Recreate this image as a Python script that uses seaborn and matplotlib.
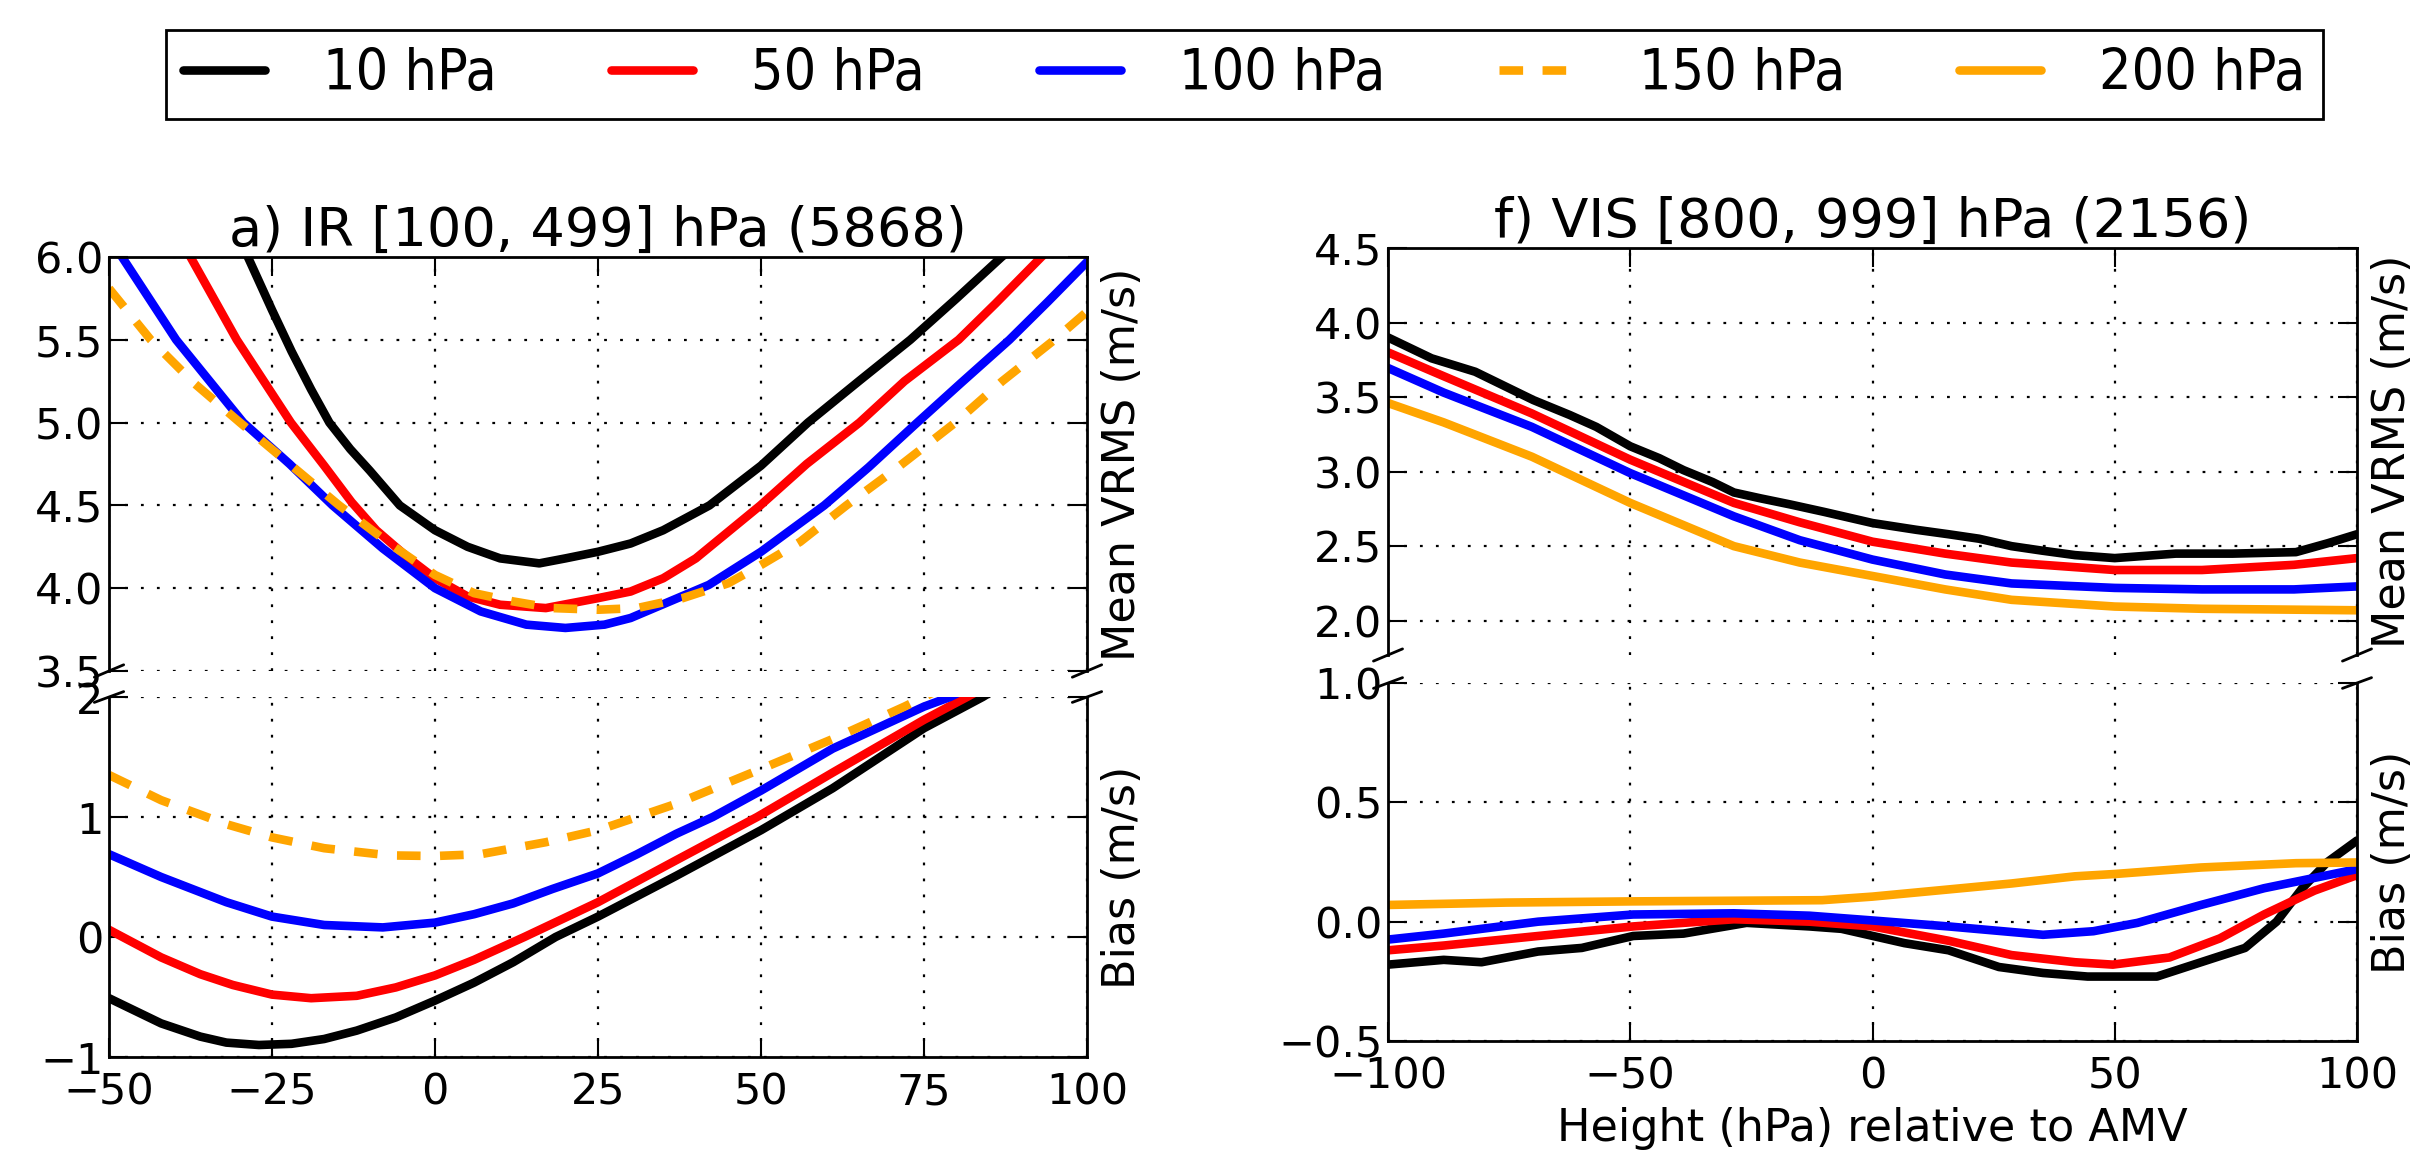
import matplotlib
matplotlib.use("Agg")
import matplotlib.pyplot as plt
from matplotlib import font_manager
import seaborn as sns

# ---------------- data ----------------
series_labels = ["10 hPa", "50 hPa", "100 hPa", "150 hPa", "200 hPa"]
series_colors = ["black", "red", "blue", "orange", "orange"]

# Panel a) IR [100, 499] hPa -- Mean VRMS
a_vrms_10_x = [-32, -28.7, -25, -22, -19, -16.2, -13, -10, -5.4, 0, 5, 10, 16, 20, 25, 30, 35, 42.1, 50, 57.2, 65, 72.9, 80, 86.9, 90]
a_vrms_10_y = [6.3, 6.0, 5.68, 5.43, 5.2, 5.0, 4.84, 4.71, 4.5, 4.35, 4.25, 4.18, 4.15, 4.18, 4.22, 4.27, 4.35, 4.5, 4.74, 5.0, 5.25, 5.5, 5.75, 6.0, 6.1]
a_vrms_50_x = [-40, -37.5, -30.4, -22.1, -17, -12.8, -9, -4, 0, 5, 10, 17, 25, 30, 35, 40, 49.9, 57, 65.1, 72, 80.3, 86, 93, 100]
a_vrms_50_y = [6.25, 6.0, 5.5, 5.0, 4.74, 4.52, 4.35, 4.18, 4.06, 3.95, 3.90, 3.88, 3.94, 3.98, 4.06, 4.18, 4.5, 4.75, 5.0, 5.25, 5.5, 5.72, 6.0, 6.25]
a_vrms_100_x = [-50, -48, -39.7, -29.4, -22.3, -15.7, -8, 0, 7, 14, 20, 26, 30, 36, 42, 50, 59.7, 66.5, 73.4, 80.7, 88.1, 94, 100]
a_vrms_100_y = [6.1, 6.0, 5.5, 5.0, 4.75, 4.5, 4.24, 4.0, 3.86, 3.78, 3.76, 3.78, 3.82, 3.92, 4.02, 4.22, 4.5, 4.73, 4.98, 5.24, 5.5, 5.73, 5.97]
a_vrms_150_x = [-50, -43.6, -37, -29.9, -22, -14.7, -7, 0, 6, 12, 18, 25, 31, 38, 45, 50, 56, 63.1, 71, 79.8, 87, 95, 100]
a_vrms_150_y = [5.81, 5.5, 5.24, 5.0, 4.74, 4.5, 4.27, 4.08, 3.97, 3.92, 3.88, 3.87, 3.88, 3.94, 4.03, 4.14, 4.28, 4.5, 4.73, 5.0, 5.25, 5.5, 5.67]

# Panel a) -- Bias
a_bias_10_x = [-50, -42, -36, -32, -27, -22, -17, -12, -6, 0, 6, 12, 18.5, 25, 37, 50, 61, 75, 84, 90]
a_bias_10_y = [-0.51, -0.72, -0.83, -0.88, -0.90, -0.89, -0.85, -0.78, -0.67, -0.53, -0.38, -0.21, 0.0, 0.17, 0.51, 0.89, 1.24, 1.74, 2.0, 2.2]
a_bias_50_x = [-50, -42, -36, -31, -25, -19, -12, -6, 0, 6, 13.7, 25, 37, 49.4, 61, 75, 81.6, 90]
a_bias_50_y = [0.06, -0.17, -0.31, -0.40, -0.48, -0.51, -0.49, -0.42, -0.32, -0.19, 0.0, 0.29, 0.64, 1.0, 1.37, 1.81, 2.0, 2.25]
a_bias_100_x = [-50, -42, -32, -25, -17, -8, 0, 6, 12, 18, 25, 31, 37, 42.6, 50, 61, 75, 79, 90]
a_bias_100_y = [0.69, 0.50, 0.29, 0.17, 0.10, 0.08, 0.12, 0.19, 0.28, 0.40, 0.53, 0.69, 0.86, 1.0, 1.22, 1.57, 1.92, 2.0, 2.3]
a_bias_150_x = [-50, -42, -32, -25, -17, -7, 0, 7, 17, 25, 31, 37, 50, 61, 72, 75, 90]
a_bias_150_y = [1.35, 1.14, 0.94, 0.83, 0.74, 0.68, 0.675, 0.69, 0.79, 0.89, 1.0, 1.11, 1.40, 1.65, 1.92, 2.0, 2.4]

# Panel f) VIS [800, 999] hPa -- Mean VRMS
f_vrms_10_x = [-100, -91, -82, -70, -62.5, -57, -50, -44, -39, -33, -28.6, -23, -17, -10, 0, 9, 15.7, 22, 28.7, 35, 41.8, 50, 62.6, 74.3, 87.4, 94, 100]
f_vrms_10_y = [3.90, 3.76, 3.67, 3.48, 3.38, 3.30, 3.17, 3.09, 3.01, 2.93, 2.86, 2.82, 2.78, 2.73, 2.655, 2.61, 2.58, 2.55, 2.50, 2.47, 2.44, 2.42, 2.45, 2.45, 2.46, 2.52, 2.58]
f_vrms_50_x = [-100, -88.5, -70.3, -50, -28.6, -15, 0, 15, 28.7, 50, 68, 87, 100]
f_vrms_50_y = [3.80, 3.64, 3.39, 3.08, 2.79, 2.66, 2.53, 2.45, 2.39, 2.34, 2.34, 2.375, 2.42]
f_vrms_100_x = [-100, -88.5, -70.3, -50, -28.6, -15, 0, 15, 28.7, 50, 68, 87, 100]
f_vrms_100_y = [3.695, 3.53, 3.30, 2.99, 2.70, 2.54, 2.41, 2.31, 2.25, 2.22, 2.21, 2.21, 2.23]
f_vrms_200_x = [-100, -88.5, -70.3, -50, -28.6, -15, 0, 15, 28.7, 50, 68, 100]
f_vrms_200_y = [3.46, 3.33, 3.10, 2.79, 2.50, 2.39, 2.30, 2.21, 2.14, 2.095, 2.08, 2.07]

# Panel f) -- Bias
f_bias_10_x = [-100, -88.5, -80.7, -69, -60, -49.4, -39, -26, -13, -6.4, 6.6, 15.7, 26.1, 35.2, 44.4, 58.7, 67.8, 76.9, 83.4, 88.7, 93.9, 100]
f_bias_10_y = [-0.18, -0.16, -0.17, -0.125, -0.11, -0.06, -0.05, -0.005, -0.02, -0.03, -0.09, -0.12, -0.19, -0.215, -0.23, -0.23, -0.17, -0.11, 0.0, 0.14, 0.25, 0.34]
f_bias_50_x = [-100, -88.5, -69, -49.4, -28.6, -13, 0, 15.7, 28.7, 41.8, 49.6, 61.3, 71.7, 80.8, 91.2, 100]
f_bias_50_y = [-0.12, -0.10, -0.06, -0.02, 0.01, 0.0, -0.02, -0.08, -0.14, -0.17, -0.18, -0.15, -0.07, 0.03, 0.13, 0.195]
f_bias_100_x = [-100, -88.5, -69, -49.4, -28.6, -13, 0, 15.7, 35.2, 45.6, 54.7, 67.8, 80.8, 100]
f_bias_100_y = [-0.075, -0.05, 0.0, 0.03, 0.035, 0.025, 0.005, -0.02, -0.055, -0.04, -0.005, 0.07, 0.14, 0.22]
f_bias_200_x = [-100, -75.5, -49.4, -10.4, 0, 15.7, 28.7, 41.8, 50.2, 67.8, 87.4, 100]
f_bias_200_y = [0.07, 0.08, 0.085, 0.09, 0.105, 0.135, 0.16, 0.19, 0.20, 0.227, 0.245, 0.248]

a_title = "a) IR [100, 499] hPa (5868)"
f_title = "f) VIS [800, 999] hPa (2156)"
a_xticks = [-50, -25, 0, 25, 50, 75, 100]
f_xticks = [-100, -50, 0, 50, 100]
a_vrms_yticks = [3.5, 4.0, 4.5, 5.0, 5.5, 6.0]
a_bias_yticks = [-1, 0, 1, 2]
f_vrms_yticks = [2.0, 2.5, 3.0, 3.5, 4.0, 4.5]
f_bias_yticks = [-0.5, 0.0, 0.5, 1.0]

# ---------------- style ----------------
sns.set_theme(style="white")
plt.rcParams.update({
    "font.family": ["DejaVu Sans"],
    "text.color": "black",
    "axes.labelcolor": "black",
    "axes.edgecolor": "black",
    "axes.linewidth": 2.0,
    "xtick.color": "black",
    "ytick.color": "black",
    "lines.scale_dashes": False,
    "axes.axisbelow": True,
})

fig = plt.figure(figsize=(24.27, 11.52), dpi=100)
W, H = 2427.0, 1152.0

def box(x0, y0, x1, y1):
    return [x0 / W, 1 - y1 / H, (x1 - x0) / W, (y1 - y0) / H]

ax_a_top = fig.add_axes(box(109, 257, 1087, 671))
ax_a_bot = fig.add_axes(box(109, 697, 1087, 1057))
ax_f_top = fig.add_axes(box(1388, 248, 2357, 655))
ax_f_bot = fig.add_axes(box(1388, 683, 2357, 1041))

LW = 6.2
DASH = (0, (17, 14))

def draw(ax, xs, ys, idx):
    ls = DASH if idx == 3 else "-"
    sns.lineplot(x=xs, y=ys, ax=ax, color=series_colors[idx], linewidth=LW,
                 linestyle=ls, label=series_labels[idx], legend=False,
                 errorbar=None, sort=True)

draw(ax_a_top, a_vrms_10_x, a_vrms_10_y, 0)
draw(ax_a_top, a_vrms_50_x, a_vrms_50_y, 1)
draw(ax_a_top, a_vrms_100_x, a_vrms_100_y, 2)
draw(ax_a_top, a_vrms_150_x, a_vrms_150_y, 3)
draw(ax_a_bot, a_bias_10_x, a_bias_10_y, 0)
draw(ax_a_bot, a_bias_50_x, a_bias_50_y, 1)
draw(ax_a_bot, a_bias_100_x, a_bias_100_y, 2)
draw(ax_a_bot, a_bias_150_x, a_bias_150_y, 3)

draw(ax_f_top, f_vrms_10_x, f_vrms_10_y, 0)
draw(ax_f_top, f_vrms_50_x, f_vrms_50_y, 1)
draw(ax_f_top, f_vrms_100_x, f_vrms_100_y, 2)
draw(ax_f_top, f_vrms_200_x, f_vrms_200_y, 4)
draw(ax_f_bot, f_bias_10_x, f_bias_10_y, 0)
draw(ax_f_bot, f_bias_50_x, f_bias_50_y, 1)
draw(ax_f_bot, f_bias_100_x, f_bias_100_y, 2)
draw(ax_f_bot, f_bias_200_x, f_bias_200_y, 4)

TICK_FS = 31
LABEL_FS = 32
GRID_LS = (0, (2, 9.5))

def setup(ax_top, ax_bot, xticks, top_lim, top_ticks, bot_lim, bot_ticks, title):
    for ax in (ax_top, ax_bot):
        ax.set_xlim(xticks[0], xticks[-1])
        ax.set_xticks(xticks)
        ax.grid(True, color="black", linestyle=GRID_LS, linewidth=1.6)
        ax.tick_params(axis="y", left=True, right=True, labelleft=True, labelright=False,
                       direction="in", length=14, width=1.5, labelsize=TICK_FS, pad=4)
        ax.yaxis.set_label_position("right")
        ax.set_xlabel("")
    ax_top.set_ylim(*top_lim)
    ax_top.set_yticks(top_ticks)
    ax_bot.set_ylim(*bot_lim)
    ax_bot.set_yticks(bot_ticks)
    ax_top.spines["bottom"].set_visible(False)
    ax_bot.spines["top"].set_visible(False)
    ax_top.tick_params(axis="x", top=True, bottom=False, labeltop=False, labelbottom=False,
                       direction="in", length=14, width=1.5)
    ax_bot.tick_params(axis="x", top=False, bottom=True, labeltop=False, labelbottom=True,
                       direction="in", length=14, width=1.5, labelsize=TICK_FS, pad=10.5)
    ax_top.set_ylabel("Mean VRMS (m/s)", fontsize=LABEL_FS, labelpad=10)
    ax_bot.set_ylabel("Bias (m/s)", fontsize=LABEL_FS, labelpad=10)
    ax_top.set_title(title, fontsize=39, pad=4)
    # broken-axis marks
    d = 0.015
    kw = dict(color="black", clip_on=False, linewidth=2.0)
    ax_top.plot((-d, d), (-d, d), transform=ax_top.transAxes, **kw)
    ax_top.plot((1 - d, 1 + d), (-d, d), transform=ax_top.transAxes, **kw)
    ax_bot.plot((-d, d), (1 - d, 1 + d), transform=ax_bot.transAxes, **kw)
    ax_bot.plot((1 - d, 1 + d), (1 - d, 1 + d), transform=ax_bot.transAxes, **kw)

setup(ax_a_top, ax_a_bot, a_xticks, (3.5, 6.0), a_vrms_yticks, (-1, 2), a_bias_yticks, a_title)
setup(ax_f_top, ax_f_bot, f_xticks, (1.77, 4.5), f_vrms_yticks, (-0.5, 1.0), f_bias_yticks, f_title)
ax_f_bot.set_xlabel("Height (hPa) relative to AMV", fontsize=LABEL_FS, labelpad=7)

# legend collected from both columns
handles = {}
for ax in (ax_a_top, ax_f_top):
    h, l = ax.get_legend_handles_labels()
    for hh, ll in zip(h, l):
        handles.setdefault(ll, hh)

has_condensed = any(f.name == "DejaVu Sans" and f.stretch == "condensed" and f.style == "normal"
                    for f in font_manager.fontManager.ttflist)
if has_condensed:
    leg_prop = font_manager.FontProperties(family="DejaVu Sans", stretch="condensed", size=41)
    leg_kw = dict(handlelength=1.44, handletextpad=1.02, columnspacing=2.0, borderpad=0.3)
    leg_cx = 1244.5
else:
    leg_prop = font_manager.FontProperties(family="DejaVu Sans", size=36)
    leg_kw = dict(handlelength=1.64, handletextpad=1.1, columnspacing=2.55, borderpad=0.35)
    leg_cx = 1235.5
leg = fig.legend([handles[k] for k in series_labels], series_labels, loc="center",
                 bbox_to_anchor=(leg_cx / W, 1 - 74.5 / H), ncol=5,
                 prop=leg_prop, frameon=True, fancybox=False, edgecolor="black",
                 framealpha=1, **leg_kw)
leg.get_frame().set_linewidth(2.0)

fig.savefig("out.png", dpi=100)
